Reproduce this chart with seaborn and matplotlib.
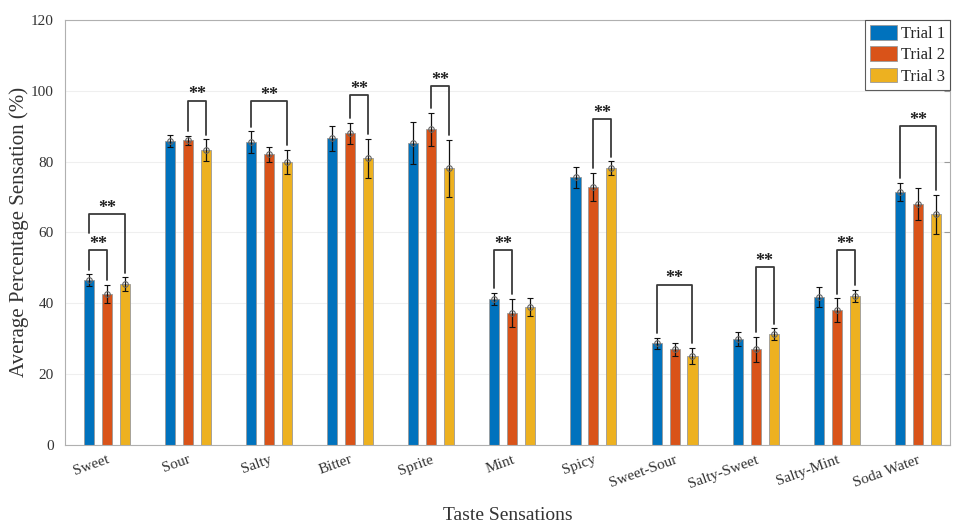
import numpy as np
import pandas as pd
import matplotlib
matplotlib.use("Agg")
import matplotlib.pyplot as plt
import seaborn as sns

# Daten
tastes = ["Sweet", "Sour", "Salty", "Bitter", "Sprite", "Mint", "Spicy",
          "Sweet-Sour", "Salty-Sweet", "Salty-Mint", "Soda Water"]
trials = ["Trial 1", "Trial 2", "Trial 3"]

trial1 = [46.6, 85.8, 85.5, 86.6, 85.2, 41.2, 75.6, 28.7, 29.8, 41.7, 71.5]
trial2 = [42.6, 86.0, 82.0, 88.0, 89.1, 37.2, 72.9, 27.0, 27.0, 38.1, 68.0]
trial3 = [45.4, 83.3, 80.0, 81.0, 78.1, 39.0, 78.1, 25.1, 31.2, 42.1, 65.1]

err1 = [1.6, 1.7, 3.0, 3.5, 6.0, 1.8, 3.0, 1.5, 2.0, 2.9, 2.5]
err2 = [2.6, 1.2, 2.0, 3.0, 4.6, 4.0, 4.0, 1.8, 3.5, 3.3, 4.6]
err3 = [1.9, 3.0, 3.4, 5.5, 8.0, 2.5, 2.0, 2.3, 1.7, 1.7, 5.5]

# Signifikanz-Klammern: (Kategorie, Trial a, Trial b, Hoehe)
brackets = [
    ("Sweet", 0, 1, 55),
    ("Sweet", 0, 2, 65.2),
    ("Sour", 1, 2, 97.2),
    ("Salty", 0, 2, 97.0),
    ("Bitter", 1, 2, 98.8),
    ("Sprite", 1, 2, 101.2),
    ("Mint", 0, 1, 55),
    ("Spicy", 1, 2, 92),
    ("Sweet-Sour", 0, 2, 45.2),
    ("Salty-Sweet", 1, 2, 50.2),
    ("Salty-Mint", 1, 2, 55),
    ("Soda Water", 0, 2, 90),
]

df = pd.DataFrame({
    "Taste": tastes * 3,
    "Trial": np.repeat(trials, len(tastes)),
    "Value": trial1 + trial2 + trial3,
    "Err": err1 + err2 + err3,
})

colors = ["#0072BD", "#D95319", "#EDB120"]

sns.set_style("white")
plt.rcParams["font.family"] = ["Liberation Serif", "DejaVu Serif"]

fig = plt.figure(figsize=(9.54, 5.24), dpi=100)
ax = fig.add_axes([0.068, 0.151, 0.928, 0.811])

sns.barplot(data=df, x="Taste", y="Value", hue="Trial", order=tastes,
            hue_order=trials, palette=colors, saturation=1, width=0.664,
            gap=0.44, edgecolor="#9a9a9a", linewidth=0.6, errorbar=None,
            ax=ax, zorder=2)

# Fehlerbalken an den Balkenmitten
centers = {}
tops = {}
bar_conts = list(ax.containers)[:3]
for k, cont in enumerate(bar_conts):
    sub = df[df["Trial"] == trials[k]].set_index("Taste").loc[tastes]
    xs = [p.get_x() + p.get_width() / 2 for p in cont.patches]
    ax.errorbar(xs, sub["Value"], yerr=sub["Err"], fmt="o", ms=4,
                mfc="none", mec="#666666", mew=0.8, ecolor="#111111",
                elinewidth=0.9, capsize=2.5, capthick=0.8, zorder=4)
    for t, x, v, e in zip(tastes, xs, sub["Value"], sub["Err"]):
        centers[(t, k)] = x
        tops[(t, k)] = v + e

# Klammern mit Sternen
occupied = dict(tops)
for t, a, b, h in sorted(brackets, key=lambda r: r[3]):
    xa, xb = centers[(t, a)], centers[(t, b)]
    ya = occupied[(t, a)] + 1.3
    yb = occupied[(t, b)] + 1.3
    ax.plot([xa, xa, xb, xb], [ya, h, h, yb], color="#3a3a3a", lw=1.3,
            zorder=5)
    ax.text((xa + xb) / 2, h + 0.4, "**", ha="center", va="baseline",
            fontsize=13, fontweight="bold", color="#222222", zorder=5)
    for k in range(a, b + 1):
        occupied[(t, k)] = h + 3.5

ax.set_ylim(0, 120)
ax.set_xlim(-0.52, 10.4)
ax.set_yticks(range(0, 121, 20))
ax.yaxis.grid(True, color="#efefef", lw=0.8)
ax.set_axisbelow(True)
ax.tick_params(direction="in", length=4, color="#9a9a9a", labelsize=11,
               labelcolor="#333333", right=True, top=False)
ax.tick_params(axis="y", pad=8)
ax.tick_params(axis="x", pad=6)
for lbl in ax.get_xticklabels():
    lbl.set_rotation(20)
    lbl.set_ha("right")
    lbl.set_rotation_mode("anchor")
for s in ax.spines.values():
    s.set_color("#b0b0b0")
    s.set_linewidth(0.8)

ax.set_xlabel("Taste Sensations", fontsize=14, color="#333333", labelpad=12)
ax.set_ylabel("Average Percentage Sensation (%)", fontsize=15,
              color="#333333", labelpad=1)

leg = ax.legend(loc="upper right", fontsize=12, frameon=True,
                fancybox=False, edgecolor="#333333", borderaxespad=0,
                handlelength=1.6, handleheight=1.0, handletextpad=0.25,
                borderpad=0.3, labelspacing=0.25)
leg.get_frame().set_linewidth(0.8)

fig.savefig("out.png", dpi=100)
